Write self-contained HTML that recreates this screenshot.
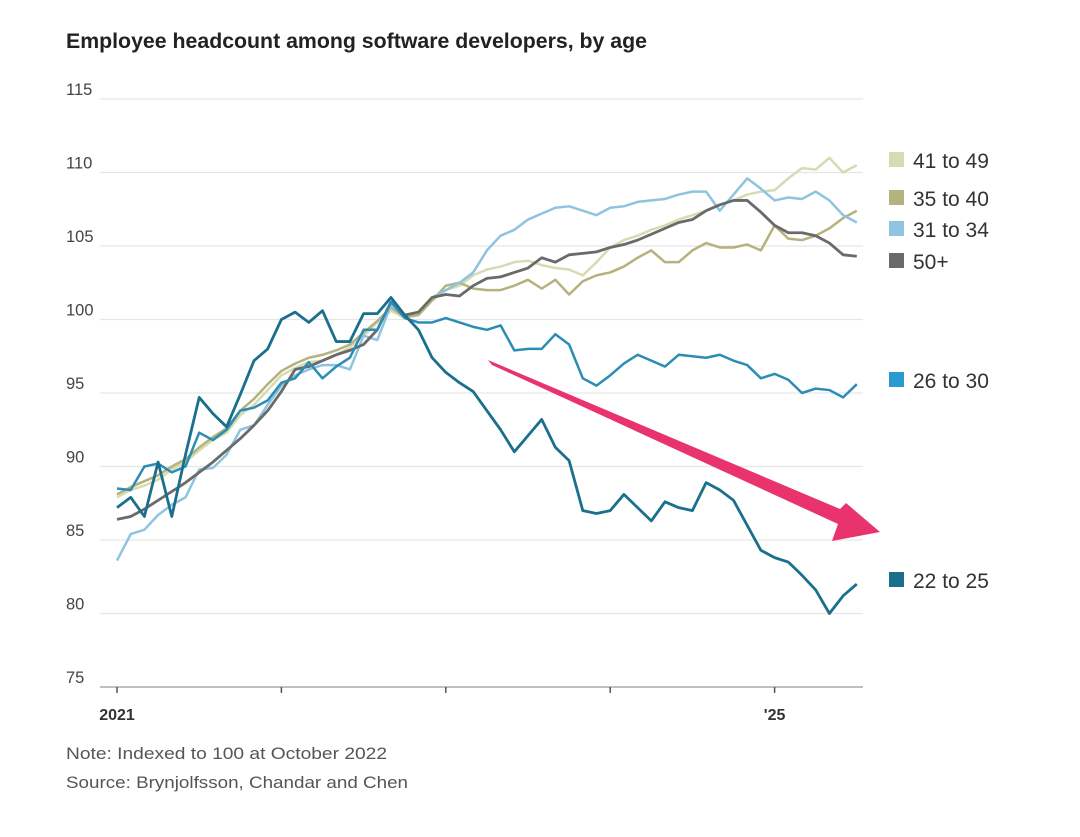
<!DOCTYPE html>
<html><head><meta charset="utf-8"><style>
body{margin:0;background:#fff;}
svg{display:block;font-family:"Liberation Sans",sans-serif;}
</style></head><body>
<svg id="chart" width="1080" height="837" viewBox="0 0 1080 837">
<text x="66" y="48" font-size="21" font-weight="bold" fill="#222" textLength="581" lengthAdjust="spacingAndGlyphs">Employee headcount among software developers, by age</text>
<g id="grid"></g>
<g id="lines"></g>
<polygon points="488,360 492,365 838,524 832,541 880,532 846,503 840,509" fill="#e8336d"/>
<g id="legend"></g>
<text x="66" y="759" font-size="17" fill="#555" textLength="321" lengthAdjust="spacingAndGlyphs">Note: Indexed to 100 at October 2022</text>
<text x="66" y="788" font-size="17" fill="#555" textLength="342" lengthAdjust="spacingAndGlyphs">Source: Brynjolfsson, Chandar and Chen</text>
</svg>
<script>
const yTicks=[115,110,105,100,95,90,85,80,75];
const xTickLabels=["2021","","","","'25"];
const xTickMonths=[0,12,24,36,48];
const seriesNames=["41 to 49","35 to 40","31 to 34","50+","26 to 30","22 to 25"];
const s4149=[87.9,88.4,88.7,89.1,89.8,90.3,91.1,91.8,92.3,93.5,94.2,95.2,96.2,96.7,97.1,97.2,97.6,98.1,98.9,99.8,100.6,100.1,100.3,101.3,102.0,102.3,103.0,103.4,103.6,103.9,104.0,103.7,103.5,103.4,103.0,103.9,104.9,105.4,105.7,106.1,106.4,106.8,107.1,107.4,107.8,108.1,108.5,108.7,108.8,109.6,110.3,110.2,111.0,110.0,110.5];
const s3540=[88.1,88.6,89.0,89.4,90.0,90.5,91.3,92.0,92.6,93.8,94.6,95.6,96.5,97.0,97.4,97.6,97.9,98.3,99.1,99.9,100.8,100.2,100.3,101.3,102.3,102.5,102.1,102.0,102.0,102.3,102.7,102.1,102.7,101.7,102.6,103.0,103.2,103.6,104.2,104.7,103.9,103.9,104.7,105.2,104.9,104.9,105.1,104.7,106.4,105.5,105.4,105.7,106.2,106.9,107.4];
const s3134=[83.6,85.4,85.7,86.7,87.4,87.9,89.8,89.9,90.8,92.5,92.8,94.2,95.5,96.2,96.6,96.9,96.9,96.6,98.9,98.6,101.0,100.3,100.5,101.5,102.0,102.5,103.2,104.7,105.7,106.1,106.8,107.2,107.6,107.7,107.4,107.1,107.6,107.7,108.0,108.1,108.2,108.5,108.7,108.7,107.4,108.5,109.6,108.9,108.1,108.3,108.2,108.7,108.1,107.1,106.6];
const s50=[86.4,86.6,87.1,87.7,88.3,88.9,89.6,90.3,91.1,91.9,92.8,93.8,95.1,96.6,96.8,97.2,97.6,97.9,98.3,99.3,101.2,100.3,100.5,101.5,101.7,101.6,102.3,102.8,102.9,103.2,103.5,104.2,103.9,104.4,104.5,104.6,104.9,105.1,105.4,105.8,106.2,106.6,106.8,107.4,107.8,108.1,108.1,107.3,106.4,105.9,105.9,105.7,105.2,104.4,104.3];
const s2630=[88.5,88.4,90.0,90.2,89.6,90.0,92.3,91.8,92.5,93.8,94.0,94.5,95.7,96.0,97.1,96.0,96.8,97.4,99.3,99.3,101.2,100.1,99.8,99.8,100.1,99.8,99.5,99.3,99.6,97.9,98.0,98.0,99.0,98.3,96.0,95.5,96.2,97.0,97.6,97.2,96.8,97.6,97.5,97.4,97.6,97.2,96.9,96.0,96.3,95.9,95.0,95.3,95.2,94.7,95.6];
const s2225=[87.2,87.9,86.6,90.3,86.6,90.8,94.7,93.6,92.7,94.9,97.2,98.0,100.0,100.5,99.8,100.6,98.5,98.5,100.4,100.4,101.5,100.3,99.3,97.4,96.4,95.7,95.1,93.8,92.5,91.0,92.1,93.2,91.3,90.4,87.0,86.8,87.0,88.1,87.2,86.3,87.6,87.2,87.0,88.9,88.4,87.7,86.0,84.3,83.8,83.5,82.6,81.6,80.0,81.2,82.0];
const seriesData=[s4149,s3540,s3134,s50,s2630,s2225];
const colors=["#d6dbb2","#b5b27d","#8ec4e0","#6a6a6a","#2b8db3","#1a6f8c"];
const widths=[2.5,2.5,2.5,2.8,2.5,2.8];
const legendY=[160,198,229,261,380,580];
const slugs=["41-49","35-40","31-34","50-plus","26-30","22-25"];
const NS="http://www.w3.org/2000/svg";
const x=i=>117+i*13.7;
const y=v=>99+(115-v)*14.7;
const grid=document.getElementById('grid');
yTicks.forEach(t=>{
  const l=document.createElementNS(NS,'line');
  l.setAttribute('x1',100);l.setAttribute('x2',863);l.setAttribute('y1',y(t));l.setAttribute('y2',y(t));
  l.setAttribute('stroke',t===75?'#999':'#e6e6e6');l.setAttribute('stroke-width',1.2);
  
  
  grid.appendChild(l);
  const tx=document.createElementNS(NS,'text');
  tx.setAttribute('x',66);tx.setAttribute('y',y(t)-4);tx.setAttribute('font-size',16.5);tx.setAttribute('fill','#444');
  tx.textContent=t;
  
  
  grid.appendChild(tx);
});
xTickMonths.forEach((m,k)=>{
  const l=document.createElementNS(NS,'line');
  l.setAttribute('x1',x(m));l.setAttribute('x2',x(m));l.setAttribute('y1',687);l.setAttribute('y2',693);
  l.setAttribute('stroke','#555');l.setAttribute('stroke-width',1.5);
  
  
  grid.appendChild(l);
  if(xTickLabels[k]){
    const tx=document.createElementNS(NS,'text');
    tx.setAttribute('x',x(m));tx.setAttribute('y',720);tx.setAttribute('font-size',16);tx.setAttribute('fill','#333');
    tx.setAttribute('text-anchor','middle');tx.setAttribute('font-weight','bold');
    tx.textContent=xTickLabels[k];
    
    
    grid.appendChild(tx);
  }
});
const lines=document.getElementById('lines');
[0,1,2,3,4,5].forEach(k=>{
  const p=document.createElementNS(NS,'polyline');
  p.setAttribute('points',seriesData[k].map((v,i)=>x(i)+','+y(v)).join(' '));
  p.setAttribute('fill','none');p.setAttribute('stroke',colors[k]);p.setAttribute('stroke-width',widths[k]);
  p.setAttribute('stroke-linejoin','round');
  
  
  lines.appendChild(p);
});
const legend=document.getElementById('legend');
seriesNames.forEach((n,k)=>{
  const r=document.createElementNS(NS,'rect');
  r.setAttribute('x',889);r.setAttribute('y',legendY[k]-8);r.setAttribute('width',15);r.setAttribute('height',15);
  r.setAttribute('fill',k===4?'#2a9bd0':colors[k]);
  
  
  legend.appendChild(r);
  const t=document.createElementNS(NS,'text');
  t.setAttribute('x',913);t.setAttribute('y',legendY[k]+8);t.setAttribute('font-size',21);t.setAttribute('fill','#333');
  t.textContent=n;
  
  
  legend.appendChild(t);
});
</script>
</body></html>
